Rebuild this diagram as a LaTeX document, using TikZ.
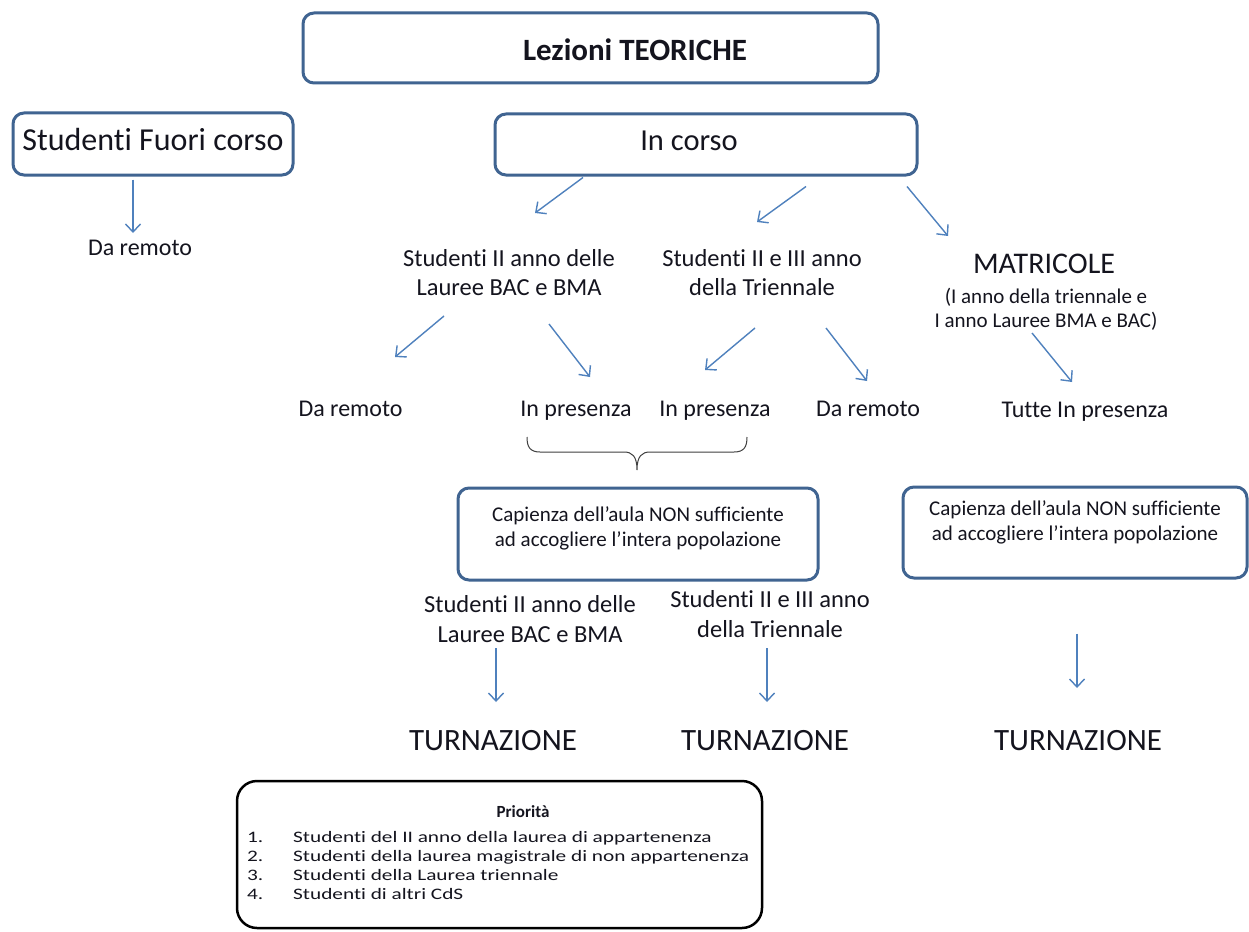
\documentclass[tikz,border=0pt]{standalone}
\usepackage{fontspec}
\setmainfont{Carlito}[Ligatures={TeX,NoCommon}]
\newfontfamily\prifont{Carlito}[FakeStretch=1.33,Ligatures={TeX,NoCommon}]
\usetikzlibrary{arrows.meta,calc}
\definecolor{boxblue}{RGB}{64,100,145}
\definecolor{arrblue}{RGB}{79,129,189}
\definecolor{txt}{RGB}{20,20,30}
\begin{document}
\begin{tikzpicture}[x=1pt,y=-1pt,
  bx/.style={draw=boxblue,line width=3pt,rounded corners=11pt,inner sep=0pt,text depth=0pt,text=txt},
  arr/.style={draw=arrblue,line width=1.4pt,-{Straight Barb[length=8pt,width=15pt,line width=1.4pt]}},
  tx/.style={inner sep=0pt,align=center,anchor=base,text=txt},
  fa/.style={font=\fontsize{24}{29}\selectfont},
  fb/.style={font=\fontsize{24.5}{29.5}\selectfont},
  fc/.style={font=\fontsize{21}{24.5}\selectfont},
  fbig/.style={font=\fontsize{31}{37}\selectfont},
]
\useasboundingbox[fill=white] (0,0) rectangle (1249,931);

% boxes
\node[bx,minimum width=575pt,minimum height=70pt,text height=26pt,font=\fontsize{31}{37}\selectfont\bfseries] (top) at (590.5,48) {\hspace*{89pt}Lezioni TEORICHE};
\node[bx,minimum width=280pt,minimum height=62pt,text height=12pt,font=\fontsize{32}{38}\selectfont] (fuori) at (153,144) {Studenti Fuori corso};
\node[bx,minimum width=422pt,minimum height=61pt,text height=11pt,font=\fontsize{30.5}{36}\selectfont] (incorso) at (706,144.5) {In corso\hspace*{34pt}};
\node[bx,minimum width=360pt,minimum height=92pt,text height=24pt,text depth=0pt,align=center,fc] (capA) at (638,534) {Capienza dell’aula NON sufficiente\\ad accogliere l’intera popolazione};
\node[bx,minimum width=344pt,minimum height=91pt,text height=15pt,text depth=0pt,align=center,fc] (capB) at (1075,532.5) {Capienza dell’aula NON sufficiente\\ad accogliere l’intera popolazione};

% texts
\node[tx,fa] (dr0) at (140,255) {Da remoto};
\node[tx,fb] (grpA) at (509,295.5) {Studenti II anno delle\\Lauree BAC e BMA};
\node[tx,fb] (grpB) at (762,295.5) {Studenti II e III anno\\della Triennale};
\node[tx,font=\fontsize{30}{36}\selectfont] (matr) at (1044,273) {MATRICOLE};
\node[tx,font=\fontsize{21}{24}\selectfont] (matrsub) at (1046,327) {(I anno della triennale e\\I anno Lauree BMA e BAC)};
\node[tx,fa] (drA) at (350.5,416) {Da remoto};
\node[tx,fa] (ipA) at (576,416) {In presenza};
\node[tx,fa] (ipB) at (715,416) {In presenza};
\node[tx,fa] (drB) at (868,416) {Da remoto};
\node[tx,fa] (tutte) at (1085,417) {Tutte In presenza};
\node[tx,fb] (grpA2) at (530,642) {Studenti II anno delle\\Lauree BAC e BMA};
\node[tx,fb] (grpB2) at (770,637) {Studenti II e III anno\\della Triennale};
\node[tx,fbig] (turnA) at (493,750) {TURNAZIONE};
\node[tx,fbig] (turnB) at (765,750) {TURNAZIONE};
\node[tx,fbig] (turnC) at (1078,750) {TURNAZIONE};

% priority box
\node[draw=black,line width=2.5pt,rounded corners=20pt,minimum width=525pt,minimum height=147pt,inner sep=0pt] (prio) at (499.5,854.5) {};
\node[tx,font=\fontsize{17}{20}\selectfont\bfseries] (priot) at (523,817) {Priorità};
\node[inner sep=0pt,align=left,anchor=base west,text=txt,font=\prifont\fontsize{16}{19}\selectfont] (priol) at (247,899)
 {\makebox[46pt][l]{1.}Studenti del II anno della laurea di appartenenza\\
  \makebox[46pt][l]{2.}Studenti della laurea magistrale di non appartenenza\\
  \makebox[46pt][l]{3.}Studenti della Laurea triennale\\
  \makebox[46pt][l]{4.}Studenti di altri CdS};

% arrows
\draw[arr] ($(fuori.south)+(-20,3)$) -- ($(dr0.base)+(-7,-22)$);
\draw[arr] ($(incorso.south)+(-123,1)$) -- ($(grpA.base)+(26,-82.5)$);
\draw[arr] ($(incorso.south)+(100,10)$) -- ($(grpB.base)+(-5,-73.5)$);
\draw[arr] ($(incorso.south)+(201,10)$) -- ($(matr.base)+(-96,-37)$);
\draw[arr] ($(grpA.base)+(-65,20.5)$) -- ($(drA.base)+(44.5,-59)$);
\draw[arr] ($(grpA.base)+(40,28.5)$) -- ($(ipA.base)+(14,-39)$);
\draw[arr] ($(grpB.base)+(-7,32.5)$) -- ($(ipB.base)+(-10,-46)$);
\draw[arr] ($(grpB.base)+(64,32.5)$) -- ($(drB.base)+(-1,-35)$);
\draw[arr] ($(matrsub.base)+(-14,6)$) -- ($(tutte.base)+(-13,-35)$);
\draw[arr] ($(grpA2.base)+(-34,6)$) -- ($(turnA.base)+(3,-48)$);
\draw[arr] ($(grpB2.base)+(-3,11)$) -- ($(turnB.base)+(2,-48)$);
\draw[arr] ($(capB.south)+(2,54)$) -- ($(turnC.base)+(-1,-62)$);

% brace
\draw[draw=black!75,line width=1pt] (527,437) .. controls (527,447) and (530,452) .. (540,452) -- (624,452) .. controls (632,452) and (637,456) .. (637,470) .. controls (637,456) and (642,452) .. (650,452) -- (734,452) .. controls (744,452) and (747,447) .. (747,437);
\end{tikzpicture}
\end{document}
